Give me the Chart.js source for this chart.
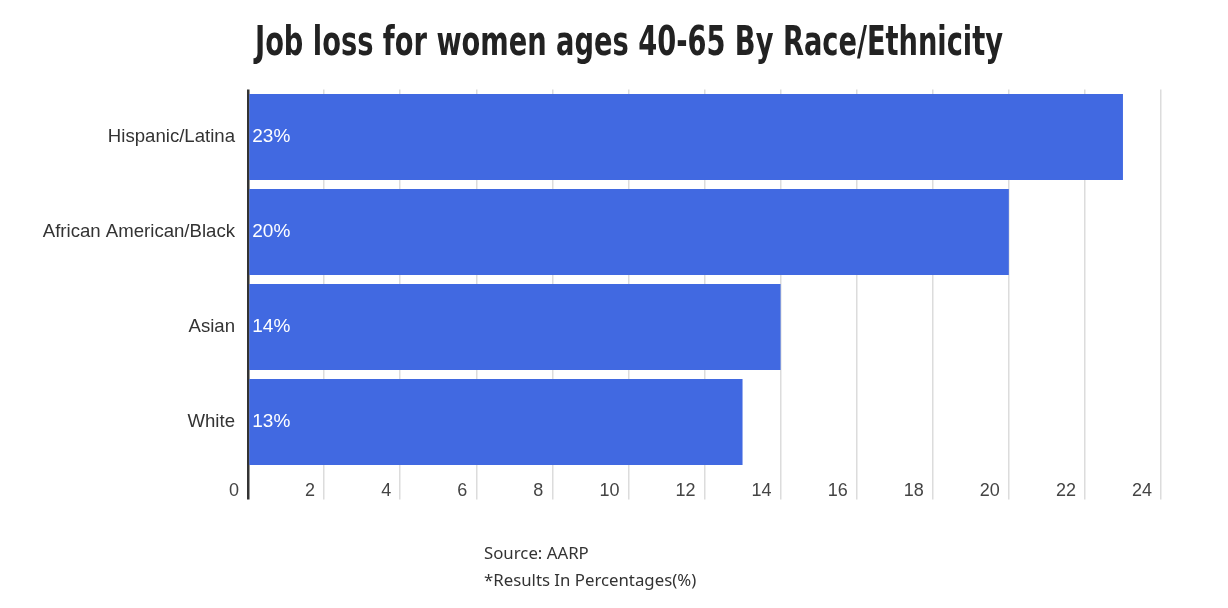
<!DOCTYPE html>
<html>
<head>
<meta charset="utf-8">
<script src="https://cdn.jsdelivr.net/npm/chart.js@4.4.1/dist/chart.umd.min.js"></script>
<style>
  html, body { margin: 0; padding: 0; background: #fff; }
  #wrap { width: 1228px; height: 608px; }
</style>
</head>
<body>
<div id="wrap"><canvas id="chart" width="1228" height="608"></canvas></div>
<script>
const categories = ['Hispanic/Latina', 'African American/Black', 'Asian', 'White'];
const jobLoss = [23, 20, 14, 13];
const tickValues = [0, 2, 4, 6, 8, 10, 12, 14, 16, 18, 20, 22, 24];
const titleText = 'Job loss for women ages 40-65 By Race/Ethnicity';
const sourceLines = ['Source: AARP', '*Results In Percentages(%)'];

// white value labels at the start of each bar
const barLabels = {
    id: 'barLabels',
    afterDatasetsDraw(chart) {
        const ctx = chart.ctx;
        const meta = chart.getDatasetMeta(0);
        ctx.save();
        ctx.fillStyle = '#ffffff';
        ctx.font = '19px "Liberation Sans", Arial, sans-serif';
        ctx.textAlign = 'left';
        ctx.textBaseline = 'middle';
        meta.data.forEach((bar, i) => {
            ctx.fillText(jobLoss[i] + '%', bar.base + 3, bar.y);
        });
        ctx.restore();
    }
};

// condensed bold title, squeezed to the reference width
const titleDraw = {
    id: 'titleDraw',
    afterDraw(chart) {
        const ctx = chart.ctx;
        ctx.save();
        ctx.fillStyle = '#222222';
        ctx.font = 'bold 40px "DejaVu Sans Condensed", "DejaVu Sans", sans-serif';
        ctx.textAlign = 'center';
        ctx.textBaseline = 'alphabetic';
        const w = ctx.measureText(titleText).width;
        ctx.translate(629, 54.5);
        ctx.scale(748 / w, 1);
        ctx.fillText(titleText, 0, 0);
        ctx.restore();
    }
};

// source note under the chart
const sourceNote = {
    id: 'sourceNote',
    afterDraw(chart) {
        const ctx = chart.ctx;
        ctx.save();
        ctx.fillStyle = '#333333';
        ctx.font = '16.8px "Noto Sans", "Open Sans", sans-serif';
        ctx.textAlign = 'left';
        ctx.textBaseline = 'alphabetic';
        sourceLines.forEach((line, i) => {
            ctx.fillText(line, 484, 559 + i * 27);
        });
        ctx.restore();
    }
};

new Chart(document.getElementById('chart').getContext('2d'), {
    type: 'bar',
    data: {
        labels: categories,
        datasets: [{
            label: 'Job loss',
            data: jobLoss,
            backgroundColor: '#4169e1',
            borderWidth: 0,
            barPercentage: 0.905,
            categoryPercentage: 1
        }]
    },
    options: {
        indexAxis: 'y',
        responsive: false,
        animation: false,
        layout: {
            padding: { left: 0, right: 67, top: 89.5, bottom: 0 }
        },
        plugins: {
            legend: { display: false },
            tooltip: { enabled: false },
            title: { display: false }
        },
        scales: {
            x: {
                min: 0,
                max: 24,
                afterBuildTicks(scale) {
                    scale.ticks = tickValues.map(v => ({ value: v }));
                },
                afterFit(scale) {
                    scale.height = 138.5;
                },
                border: { display: false },
                grid: {
                    color: c => c.tick && c.tick.value === 0 ? '#333333' : '#dcdcdc',
                    lineWidth: c => c.tick && c.tick.value === 0 ? 2.5 : 1.5,
                    drawTicks: true,
                    tickLength: 30
                },
                ticks: {
                    align: 'end',
                    padding: -19,
                    color: '#444444',
                    font: { family: '"Liberation Sans", Arial, sans-serif', size: 18 },
                    callback: v => v + '\u2002'
                }
            },
            y: {
                afterFit(scale) {
                    scale.width = 248;
                },
                border: { display: false },
                grid: { display: false, drawTicks: false },
                ticks: {
                    padding: 13,
                    color: '#333333',
                    font: { family: '"Liberation Sans", Arial, sans-serif', size: 18.6 }
                }
            }
        }
    },
    plugins: [barLabels, titleDraw, sourceNote]
});
</script>
</body>
</html>
